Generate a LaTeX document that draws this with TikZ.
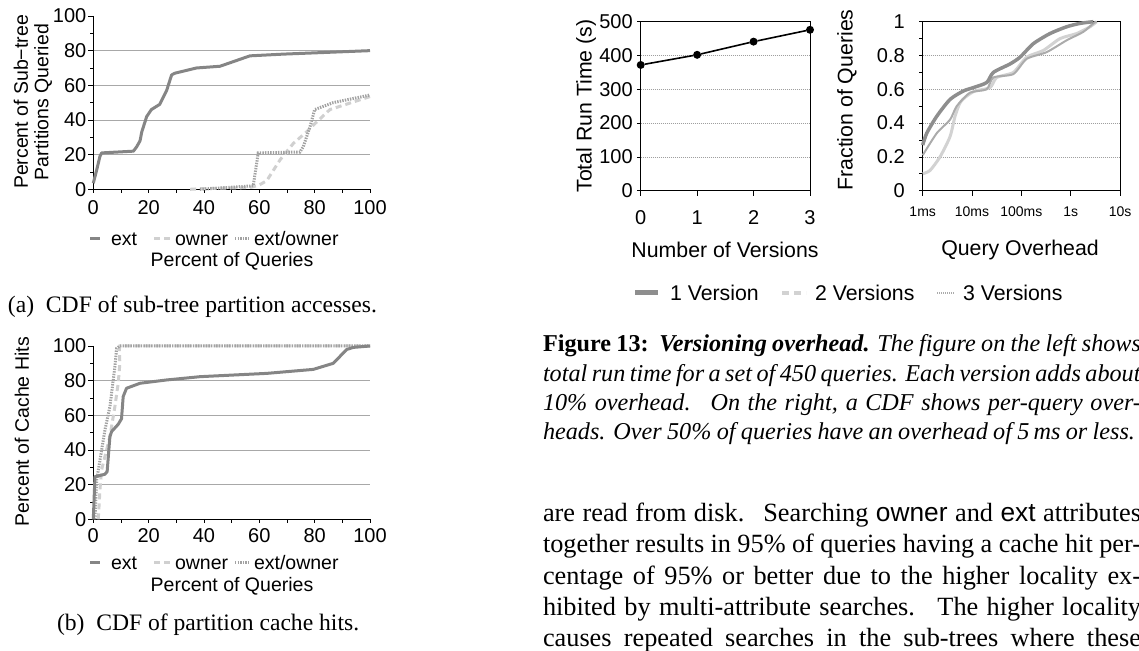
\documentclass[tikz,border=0pt]{standalone}
\usepackage{fontspec}
\setmainfont{Liberation Serif}
\setsansfont{Liberation Sans}
\newcommand{\myfs}[1]{\fontsize{#1}{#1}\selectfont}
\definecolor{extc}{HTML}{858585}
\definecolor{ownc}{HTML}{D0D0D0}
\definecolor{eoc}{HTML}{A2A2A2}
\definecolor{gridc}{HTML}{A8A8A8}
\definecolor{vone}{HTML}{8E8E8E}
\definecolor{vtwo}{HTML}{D2D2D2}
\definecolor{vthree}{HTML}{ABABAB}
\begin{document}
\begin{tikzpicture}[x=1pt,y=1pt,
  every node/.style={inner sep=0pt,outer sep=0pt},
  lblA/.style={font=\sffamily\myfs{19.5}},
  tickA/.style={font=\sffamily\myfs{20}},
  lblC/.style={font=\sffamily\myfs{21.3}},
  tickC/.style={font=\sffamily\myfs{20}},
  tickD/.style={font=\sffamily\myfs{14}},
  gridA/.style={draw=gridc,line width=0.9pt},
  gridC/.style={draw=gray!75,line width=0.7pt,dash pattern=on 1pt off 1pt},
  axisline/.style={draw=black,line width=1.1pt},
  axisthin/.style={draw=black,line width=0.7pt},
  extline/.style={draw=extc,line width=3pt,line join=round},
  ownline/.style={draw=ownc,line width=3pt,dash pattern=on 6pt off 4pt},
  eoline/.style={draw=eoc,line width=3pt,dash pattern=on 1.4pt off 1.2pt},
  vonel/.style={draw=vone,line width=3.5pt,line join=round},
  vtwol/.style={draw=vtwo,line width=3pt,line join=round},
  vthreel/.style={draw=vthree,line width=2pt,line join=round},
  dot/.style={circle,fill=black,minimum size=8pt},
  bodyfont/.style={font=\myfs{26.3}},
  capfont/.style={font=\myfs{24.2}},
  subcap/.style={font=\myfs{23.6}}
]
\useasboundingbox (0,0) rectangle (1139,650);

% ---------------- Chart (a)
\begin{scope}[shift={(93.3pt,460.7pt)},x=2.767pt,y=1.733pt]
  \foreach \v in {20,40,60,80} \draw[gridA] (0,\v) -- (100,\v);
  \foreach \v in {10,30,...,90} \draw[axisthin] (0,\v) -- ++(-3pt,0);
  \foreach \v in {0,20,...,100} \draw[axisthin] (0,\v) -- ++(-5pt,0);
  \foreach \v in {0,10,...,100} \draw[axisthin] (\v,0) -- ++(0,-4pt);
  \draw[axisline] (0,100) -- (0,0) -- (100,0);
  \foreach \v in {0,20,...,100} \node[tickA,anchor=east] (aay\v) at ([xshift=-7pt]0,\v) {\v};
  \foreach \v in {0,20,...,100} \node[tickA] (aax\v) at ([yshift=-18pt]\v,0) {\v};
  \draw[ownline] plot coordinates {(35,0)(39.8,0.4)(56.6,1)(60,2.5)(62.7,5)(67.5,17)(72.3,26.5)(77,33)(79.5,37)(85.5,46)(100,53.5)};
  \draw[eoline] plot coordinates {(38.5,0)(57.8,2)(59.6,21)(74.7,21.5)(75.9,24.6)(78.3,36)(80,46)(86.7,50)(100,54.4)};
  \draw[extline] plot coordinates {(0,3.5)(1.2,11)(2.4,19)(3,21)(14.5,22)(15.7,24.6)(16.9,28)(17.5,33)(19.3,42)(21,46)(24,49)(26.5,57)(28.3,66)(29.5,67)(37.3,70)(45.8,71)(56.6,77)(68.7,78)(100,80)};
\end{scope}
\node[font=\sffamily\fontsize{19.5}{20.5}\selectfont,rotate=90,align=center] (aylab) at (33,548) {Percent of Sub\textminus tree\\Partitions Queried};
\draw[extc,line width=3pt] (90,411) -- (100,411);
\node[lblA,anchor=base west] (alext) at (111,404.5) {ext};
\draw[ownline] (154,411) -- (170,411);
\node[lblA,anchor=base west] (alown) at (175,404.5) {owner};
\draw[eoline] (235,411) -- (249,411);
\node[lblA,anchor=base west] (aleo) at (254,404.5) {ext/owner};
\node[lblA] (axlab) at (232,389) {Percent of Queries};
\node[subcap,anchor=base west] (capa) at (8,337) {(a)\hspace{0.5em}CDF of sub-tree partition accesses.};

% ---------------- Chart (b)
\begin{scope}[shift={(93.3pt,130.7pt)},x=2.767pt,y=1.733pt]
  \foreach \v in {20,40,60,80} \draw[gridA] (0,\v) -- (100,\v);
  \foreach \v in {10,30,...,90} \draw[axisthin] (0,\v) -- ++(-3pt,0);
  \foreach \v in {0,20,...,100} \draw[axisthin] (0,\v) -- ++(-5pt,0);
  \foreach \v in {0,10,...,100} \draw[axisthin] (\v,0) -- ++(0,-4pt);
  \draw[axisline] (0,100) -- (0,0) -- (100,0);
  \foreach \v in {0,20,...,100} \node[tickA,anchor=east] (bby\v) at ([xshift=-7pt]0,\v) {\v};
  \foreach \v in {0,20,...,100} \node[tickA] (bbx\v) at ([yshift=-16pt]\v,0) {\v};
  \draw[ownline] plot coordinates {(1.8,0)(2.4,17)(3,28.5)(6,47.7)(7.8,65)(9,78.5)(9.6,90)(9.4,97.7)(9.6,100)(100,100)};
  \draw[eoline] plot coordinates {(0.6,0)(1.2,22.7)(2.4,34)(4.2,51.5)(6,65)(7.8,88)(8.4,98.6)(9.6,100)(100,100)};
  \draw[extline] plot coordinates {(0,0)(0.6,24.6)(1.8,25)(4.2,26)(5,27.5)(6,47.7)(6.6,50.6)(9,54.8)(10.2,58)(10.8,70.8)(12,75.6)(16.9,78.5)(26.5,80.4)(38.6,82.3)(62.7,84.2)(79.5,86.5)(86.7,90)(91.6,98)(94,99.2)(100,100)};
\end{scope}
\node[lblA,rotate=90] (bylab) at (22,218) {Percent of Cache Hits};
\draw[extc,line width=3pt] (90,87) -- (100,87);
\node[lblA,anchor=base west] (blext) at (111,80.5) {ext};
\draw[ownline] (154,87) -- (170,87);
\node[lblA,anchor=base west] (blown) at (175,80.5) {owner};
\draw[eoline] (235,87) -- (249,87);
\node[lblA,anchor=base west] (bleo) at (254,80.5) {ext/owner};
\node[lblA] (bxlab) at (232,64) {Percent of Queries};
\node[subcap,anchor=base west] (capb) at (57,20) {(b)\hspace{0.5em}CDF of partition cache hits.};

% ---------------- Chart (c)
\begin{scope}[shift={(640.7pt,459.3pt)},x=56.43pt,y=0.338pt]
  \foreach \v in {100,200,300,400} \draw[gridC] (0,\v) -- (3,\v);
  \draw[black,line width=0.6pt] (0,0) rectangle (3,500);
  \foreach \v in {0,100,...,500} \draw[axisthin] (0,\v) -- ++(-4pt,0);
  \foreach \v in {0,1,2,3} \draw[axisthin] (\v,0) -- ++(0,-5pt);
  \draw[axisline] (0,500) -- (0,0) -- (3,0);
  \foreach \v in {0,100,...,500} \node[tickC,anchor=east] (ccy\v) at ([xshift=-8pt]0,\v) {\v};
  \foreach \v in {0,1,2,3} \node[tickC] (ccx\v) at ([yshift=-27pt]\v,0) {\v};
  \node[dot] (p0) at (0,372) {};
  \node[dot] (p1) at (1,402) {};
  \node[dot] (p2) at (2,441) {};
  \node[dot] (p3) at (3,476) {};
  \draw[black,line width=1.6pt] (p0) -- (p1) -- (p2) -- (p3);
\end{scope}
\node[lblC,rotate=90] (cylab) at (586,544) {Total Run Time (s)};
\node[lblC] (cxlab) at (725,400) {Number of Versions};

% ---------------- Chart (d)
\begin{scope}[shift={(922.7pt,459.3pt)},x=49.33pt,y=169pt]
  \foreach \v in {0.2,0.4,0.6,0.8} \draw[gridC] (0,\v) -- (4,\v);
  \draw[black,line width=0.6pt] (0,0) rectangle (4,1);
  \foreach \v in {0,0.1,...,1.01} \draw[axisthin] (0,\v) -- ++(-4pt,0);
  \foreach \v in {0,1,2,3,4} \draw[axisthin] (\v,0) -- ++(0,-5pt);
  \draw[axisline] (0,1) -- (0,0) -- (4,0);
  \node[tickC,anchor=east] (ddy0) at ([xshift=-18pt]0,0) {0};
  \node[tickC,anchor=east] (ddy2) at ([xshift=-18pt]0,0.2) {0.2};
  \node[tickC,anchor=east] (ddy4) at ([xshift=-18pt]0,0.4) {0.4};
  \node[tickC,anchor=east] (ddy6) at ([xshift=-18pt]0,0.6) {0.6};
  \node[tickC,anchor=east] (ddy8) at ([xshift=-18pt]0,0.8) {0.8};
  \node[tickC,anchor=east] (ddy10) at ([xshift=-18pt]0,1) {1};
  \node[tickD] (ddx0) at ([yshift=-21pt]0,0) {1ms};
  \node[tickD] (ddx1) at ([yshift=-21pt]1,0) {10ms};
  \node[tickD] (ddx2) at ([yshift=-21pt]2,0) {100ms};
  \node[tickD] (ddx3) at ([yshift=-21pt]3,0) {1s};
  \node[tickD] (ddx4) at ([yshift=-21pt]4,0) {10s};
  \draw[vtwol] plot[smooth,tension=0.4] coordinates {(0,0.10)(0.149,0.12)(0.351,0.20)(0.554,0.32)(0.655,0.44)(0.757,0.52)(0.892,0.56)(1.061,0.59)(1.365,0.61)(1.5,0.67)(1.838,0.70)(2.108,0.79)(2.446,0.83)(2.784,0.90)(3.122,0.93)(3.392,0.97)(3.527,1.0)};
  \draw[vthreel] plot[smooth,tension=0.4] coordinates {(0,0.21)(0.284,0.34)(0.554,0.42)(0.689,0.50)(0.959,0.58)(1.297,0.60)(1.432,0.67)(1.838,0.69)(2.108,0.78)(2.514,0.82)(2.919,0.89)(3.257,0.94)(3.459,0.99)(3.527,1.0)};
  \draw[vonel] plot[smooth,tension=0.4] coordinates {(0,0.27)(0.081,0.34)(0.284,0.44)(0.554,0.54)(0.824,0.59)(1.027,0.61)(1.297,0.64)(1.432,0.70)(1.770,0.75)(1.973,0.79)(2.243,0.87)(2.581,0.93)(2.919,0.97)(3.189,0.99)(3.459,1.0)};
\end{scope}
\node[lblC,rotate=90] (dylab) at (847,550) {Fraction of Queries};
\node[lblC] (dxlab) at (1020,400) {Query Overhead};

% legend (c,d)
\draw[vone,line width=5pt] (635,357) -- (658,357);
\node[lblC,anchor=base west] (lg1) at (670,349.5) {1 Version};
\draw[vtwo,line width=4pt,dash pattern=on 7pt off 5pt] (782,357) -- (806,357);
\node[lblC,anchor=base west] (lg2) at (815,349.5) {2 Versions};
\draw[vthree,line width=1.5pt,dash pattern=on 1pt off 1pt] (937,357) -- (954,357);
\node[lblC,anchor=base west] (lg3) at (963,349.5) {3 Versions};

% caption
\node[capfont,anchor=base west] (cap1) at (543,298) {\makebox[598pt][s]{\textbf{Figure 13:}\ \ \textbf{\textit{Versioning overhead.}} \textit{The figure on the left shows}}};
\node[capfont,anchor=base west] (cap2) at (543,268) {\makebox[598pt][s]{\textit{total run time for a set of 450 queries. Each version adds about}}};
\node[capfont,anchor=base west] (cap3) at (543,239.5) {\makebox[598pt][s]{\textit{10\% overhead. \ On the right, a CDF shows per-query over-}}};
\node[capfont,anchor=base west] (cap4) at (543,210.5) {\makebox[592pt][s]{\textit{heads. Over 50\% of queries have an overhead of 5\,ms or less.}}};

% body
\node[bodyfont,anchor=base west] (bd1) at (543,128) {\makebox[598pt][s]{are read from disk. \ Searching {\sffamily owner} and {\sffamily ext} attributes}};
\node[bodyfont,anchor=base west] (bd2) at (543,97) {\makebox[598pt][s]{together results in 95\% of queries having a cache hit per-}};
\node[bodyfont,anchor=base west] (bd3) at (543,66) {\makebox[598pt][s]{centage of 95\% or better due to the higher locality ex-}};
\node[bodyfont,anchor=base west] (bd4) at (543,35) {\makebox[598pt][s]{hibited by multi-attribute searches. \ The higher locality}};
\node[bodyfont,anchor=base west] (bd5) at (543,4) {\makebox[598pt][s]{causes repeated searches in the sub-trees where these}};
\end{tikzpicture}
\end{document}
